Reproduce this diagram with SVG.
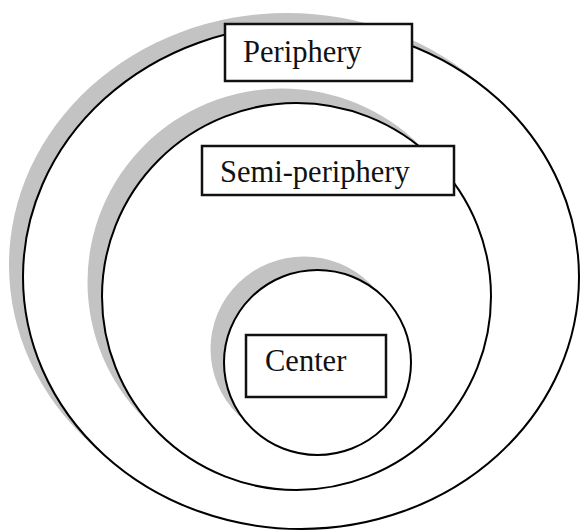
<svg xmlns="http://www.w3.org/2000/svg" width="581" height="531" viewBox="0 0 581 531">
<style>
.shadow{fill:#c3c3c3;stroke:none}
.ring{fill:#fff;stroke:#000;stroke-width:2}
.box{fill:#fff;stroke:#111;stroke-width:2.5}
.label{font-family:"Liberation Serif","Times New Roman",serif;font-size:30.5px;fill:#111}
</style>
<rect width="581" height="531" fill="#fff"/>
<g id="periphery-ring">
<ellipse class="shadow" cx="287" cy="265" rx="278" ry="252"/>
<ellipse class="ring" cx="301" cy="277" rx="278" ry="252"/>
</g>
<g id="semi-periphery-ring">
<ellipse class="shadow" cx="282" cy="282" rx="194.5" ry="193.5"/>
<ellipse class="ring" cx="296.5" cy="296.5" rx="194.5" ry="193.5"/>
</g>
<g id="center-ring">
<ellipse class="shadow" cx="304" cy="349" rx="93.5" ry="92.5"/>
<ellipse class="ring" cx="317.5" cy="362.5" rx="93.5" ry="92.5"/>
</g>
<g id="connectors"></g>
<g id="periphery">
<rect class="box" x="225" y="24" width="187" height="57"/>
<text class="label" x="243" y="62">Periphery</text>
</g>
<g id="semi-periphery">
<rect class="box" x="202" y="146" width="252" height="49"/>
<text class="label" x="220" y="182">Semi-periphery</text>
</g>
<g id="center">
<rect class="box" x="246" y="335" width="140" height="62"/>
<text class="label" x="265" y="371">Center</text>
</g>
</svg>
